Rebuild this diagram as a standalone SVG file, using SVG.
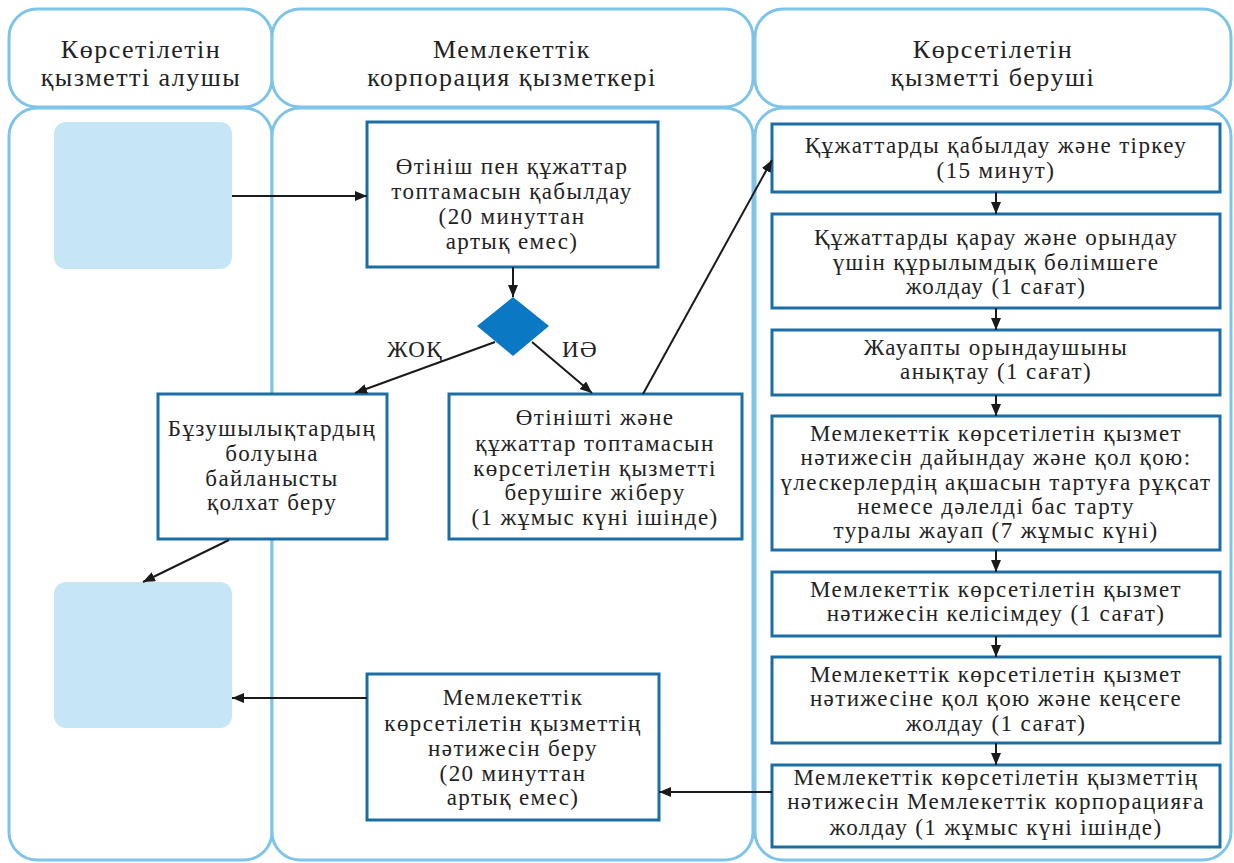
<svg xmlns="http://www.w3.org/2000/svg" width="1234" height="863" viewBox="0 0 1234 863">
<style>
.lane{fill:#fff;stroke:#7EC4EA;stroke-width:3}
.box{fill:#fff;stroke:#1B6EA3;stroke-width:3}
.term{fill:#C6E5F6}
.c{stroke:#1a1a1a;stroke-width:2;fill:none;marker-end:url(#ah)}
.t{font-size:23px;letter-spacing:1.4px;fill:#222;text-anchor:middle}
.h{font-size:26px;letter-spacing:1.5px;fill:#222;text-anchor:middle}
</style>
<defs>
<marker id="ah" viewBox="0 0 12 10" refX="12" refY="5" markerWidth="12" markerHeight="10" markerUnits="userSpaceOnUse" orient="auto">
<path d="M0,0 L12,5 L0,10 Z" fill="#1a1a1a"/>
</marker>
</defs>
<rect width="1234" height="863" fill="#fff"/>
<g id="lane1">
<rect class="lane" x="9" y="9" width="263" height="98" rx="28"/>
<rect class="lane" x="9" y="108" width="263" height="752" rx="28"/>
<text class="h" font-family="Liberation Serif"><tspan x="141" y="58">Көрсетілетін</tspan><tspan x="141" y="86">қызметті алушы</tspan></text>
</g>
<g id="lane2">
<rect class="lane" x="272" y="9" width="481" height="98" rx="28"/>
<rect class="lane" x="272" y="108" width="481" height="752" rx="28"/>
<text class="h" font-family="Liberation Serif"><tspan x="512" y="58">Мемлекеттік</tspan><tspan x="512" y="86">корпорация қызметкері</tspan></text>
</g>
<g id="lane3">
<rect class="lane" x="755" y="9" width="476" height="98" rx="28"/>
<rect class="lane" x="755" y="108" width="476" height="752" rx="28"/>
<text class="h" font-family="Liberation Serif"><tspan x="993" y="58">Көрсетілетін</tspan><tspan x="993" y="86">қызметті беруші</tspan></text>
</g>
<g id="start">
<rect class="term" x="54" y="122" width="178" height="147" rx="12"/>
</g>
<g id="end">
<rect class="term" x="54" y="582" width="178" height="146" rx="12"/>
</g>
<g id="n1">
<rect class="box" x="367" y="122" width="291" height="145"/>
<text class="t" font-family="Liberation Serif"><tspan x="512" y="174">Өтініш пен құжаттар</tspan><tspan x="512" y="199">топтамасын қабылдау</tspan><tspan x="512" y="224">(20 минуттан</tspan><tspan x="512" y="249">артық емес)</tspan></text>
</g>
<g id="decision">
<path d="M513,297 L549,326 L513,356 L477,326 Z" fill="#0A78C2"/>
</g>
<g id="n_no">
<rect class="box" x="158" y="394" width="229" height="145"/>
<text class="t" font-family="Liberation Serif" letter-spacing="0.6"><tspan x="272" y="436">Бұзушылықтардың</tspan><tspan x="272" y="461">болуына</tspan><tspan x="272" y="486">байланысты</tspan><tspan x="272" y="510">қолхат беру</tspan></text>
</g>
<g id="n_yes">
<rect class="box" x="449" y="394" width="293" height="145"/>
<text class="t" font-family="Liberation Serif"><tspan x="595" y="425">Өтінішті және</tspan><tspan x="595" y="451">құжаттар топтамасын</tspan><tspan x="595" y="476">көрсетілетін қызметті</tspan><tspan x="595" y="500">берушіге жіберу</tspan><tspan x="595" y="525">(1 жұмыс күні ішінде)</tspan></text>
</g>
<g id="n_result">
<rect class="box" x="367" y="674" width="292" height="146"/>
<text class="t" font-family="Liberation Serif"><tspan x="513" y="705">Мемлекеттік</tspan><tspan x="513" y="731">көрсетілетін қызметтің</tspan><tspan x="513" y="756">нәтижесін беру</tspan><tspan x="513" y="781">(20 минуттан</tspan><tspan x="513" y="805">артық емес)</tspan></text>
</g>
<g id="p1">
<rect class="box" x="772" y="124" width="448" height="68"/>
<text class="t" font-family="Liberation Serif"><tspan x="996" y="153">Құжаттарды қабылдау және тіркеу</tspan><tspan x="996" y="178">(15 минут)</tspan></text>
</g>
<g id="p2">
<rect class="box" x="772" y="214" width="448" height="94"/>
<text class="t" font-family="Liberation Serif"><tspan x="996" y="245">Құжаттарды қарау және орындау</tspan><tspan x="996" y="270">үшін құрылымдық бөлімшеге</tspan><tspan x="996" y="294">жолдау (1 сағат)</tspan></text>
</g>
<g id="p3">
<rect class="box" x="772" y="330" width="448" height="65"/>
<text class="t" font-family="Liberation Serif"><tspan x="996" y="355">Жауапты орындаушыны</tspan><tspan x="996" y="379">анықтау (1 сағат)</tspan></text>
</g>
<g id="p4">
<rect class="box" x="772" y="416" width="448" height="134"/>
<text class="t" font-family="Liberation Serif"><tspan x="996" y="441">Мемлекеттік көрсетілетін қызмет</tspan><tspan x="996" y="465">нәтижесін дайындау және қол қою:</tspan><tspan x="996" y="490">үлескерлердің ақшасын тартуға рұқсат</tspan><tspan x="996" y="514">немесе дәлелді бас тарту</tspan><tspan x="996" y="538">туралы жауап (7 жұмыс күні)</tspan></text>
</g>
<g id="p5">
<rect class="box" x="772" y="572" width="448" height="64"/>
<text class="t" font-family="Liberation Serif"><tspan x="996" y="597">Мемлекеттік көрсетілетін қызмет</tspan><tspan x="996" y="621">нәтижесін келісімдеу (1 сағат)</tspan></text>
</g>
<g id="p6">
<rect class="box" x="772" y="657" width="448" height="86"/>
<text class="t" font-family="Liberation Serif"><tspan x="996" y="682">Мемлекеттік көрсетілетін қызмет</tspan><tspan x="996" y="706">нәтижесіне қол қою және кеңсеге</tspan><tspan x="996" y="731">жолдау (1 сағат)</tspan></text>
</g>
<g id="p7">
<rect class="box" x="772" y="765" width="448" height="82"/>
<text class="t" font-family="Liberation Serif"><tspan x="996" y="785">Мемлекеттік көрсетілетін қызметтің</tspan><tspan x="996" y="809">нәтижесін Мемлекеттік корпорацияға</tspan><tspan x="996" y="835">жолдау (1 жұмыс күні ішінде)</tspan></text>
</g>
<g id="connectors">
<line class="c" x1="232" y1="196" x2="367" y2="196"/>
<line class="c" x1="513" y1="267" x2="513" y2="297"/>
<line class="c" x1="495" y1="342" x2="355" y2="393"/>
<line class="c" x1="532" y1="342" x2="592" y2="393"/>
<line class="c" x1="229" y1="540" x2="143" y2="582"/>
<line class="c" x1="643" y1="394" x2="772" y2="160"/>
<line class="c" x1="996" y1="192" x2="996" y2="214"/>
<line class="c" x1="996" y1="308" x2="996" y2="330"/>
<line class="c" x1="996" y1="395" x2="996" y2="416"/>
<line class="c" x1="996" y1="550" x2="996" y2="572"/>
<line class="c" x1="996" y1="636" x2="996" y2="657"/>
<line class="c" x1="996" y1="743" x2="996" y2="765"/>
<line class="c" x1="772" y1="792" x2="659" y2="792"/>
<line class="c" x1="367" y1="698" x2="232" y2="698"/>
<text class="t" font-family="Liberation Serif" x="415" y="357">ЖОҚ</text>
<text class="t" font-family="Liberation Serif" x="580" y="357">ИӘ</text>
</g>
</svg>
